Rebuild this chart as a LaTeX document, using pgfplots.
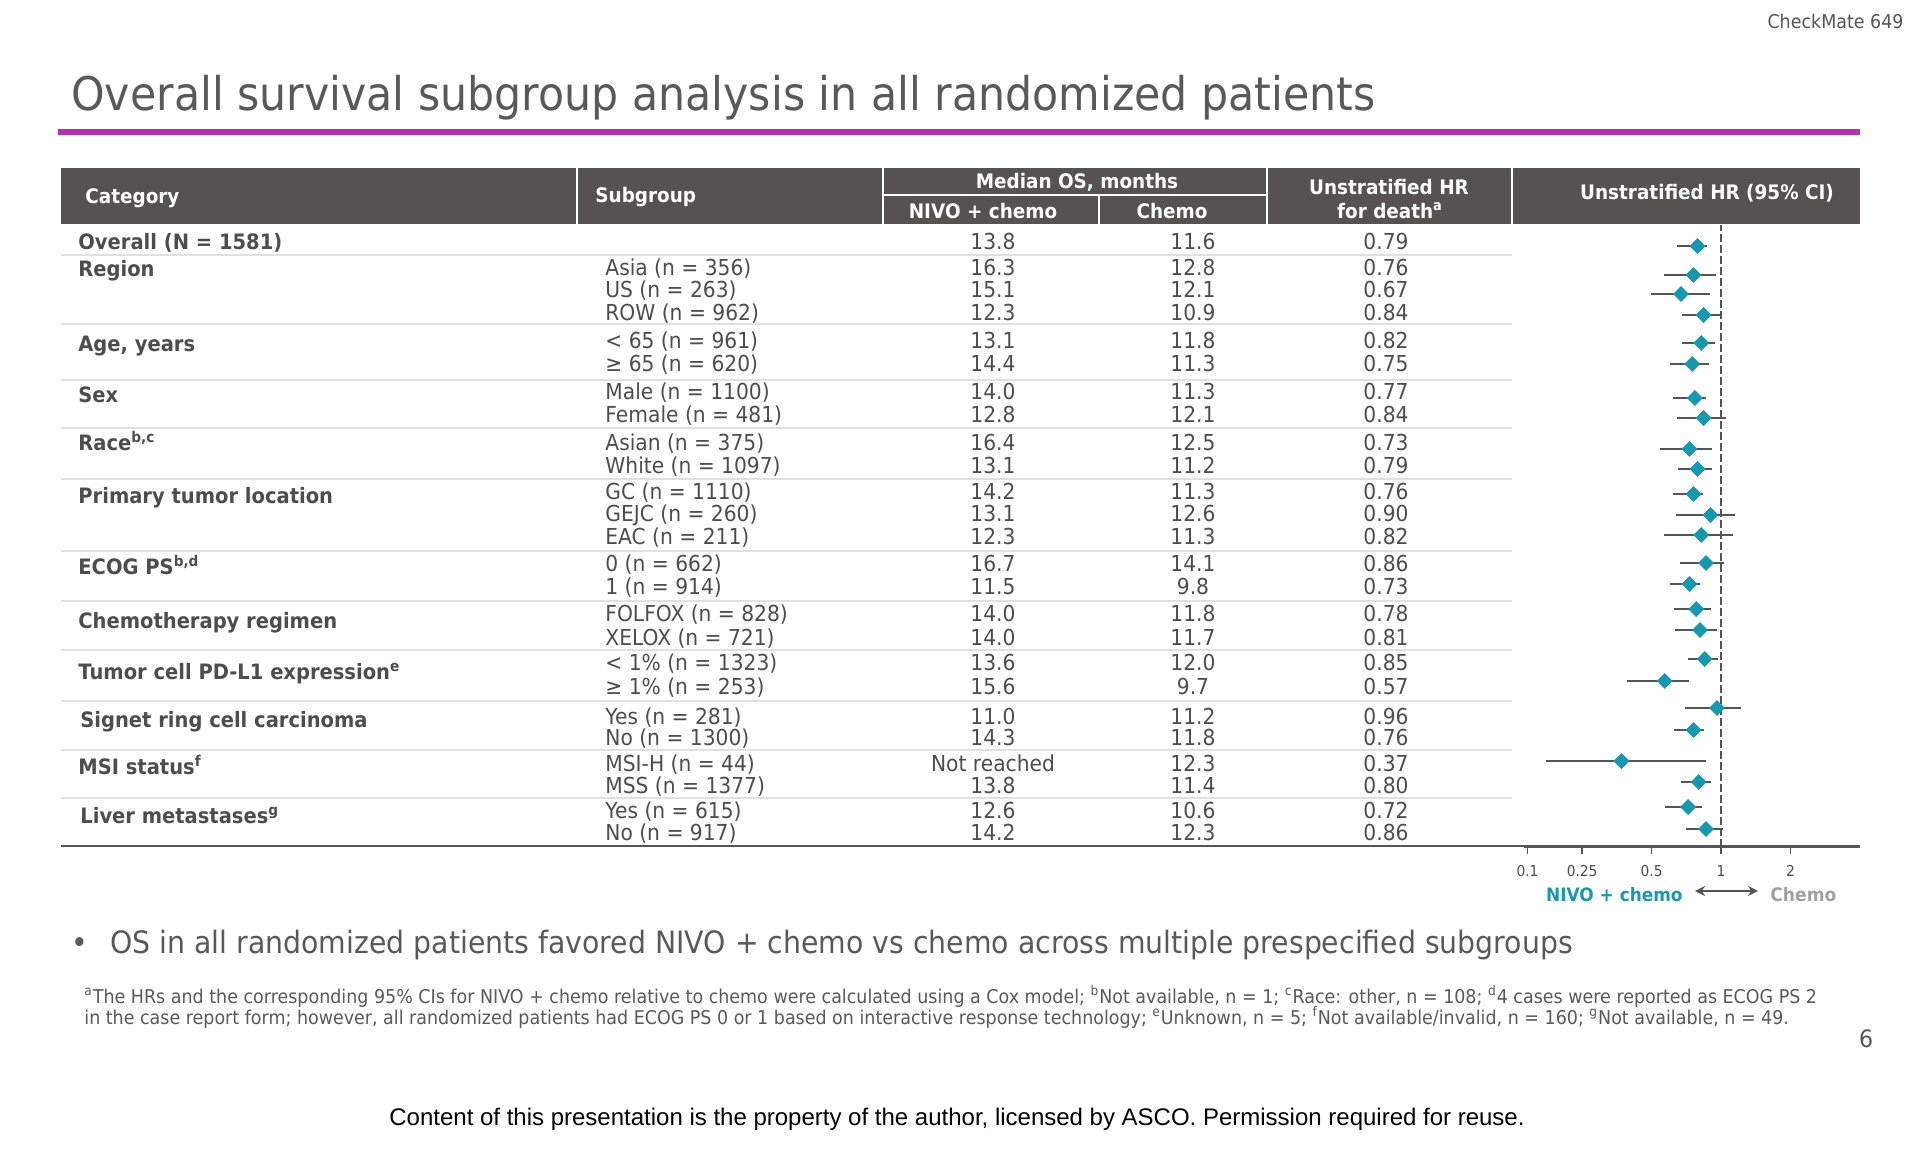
\documentclass[border=0pt]{standalone}
\usepackage{pgfplots}
\pgfplotsset{compat=1.18}
\usepackage{pgfplotstable}
\usepackage{fontspec}
\usetikzlibrary{arrows.meta}
\setmainfont{DejaVu Sans}[FakeStretch=0.92]
\newfontfamily\arialf{Liberation Sans}
\definecolor{hdr}{RGB}{87,82,82}
\definecolor{txt}{RGB}{77,77,77}
\definecolor{ttl}{RGB}{89,89,89}
\definecolor{nivoteal}{RGB}{24,152,175}
\definecolor{purp}{RGB}{178,50,170}
\definecolor{sepc}{RGB}{226,223,223}
\definecolor{axgray}{RGB}{85,85,85}
\definecolor{chemogray}{RGB}{160,160,160}

\pgfplotstableread{
y   hr   lo    hi
601 0.79 0.645 0.872
572 0.76 0.566 0.951
553 0.67 0.497 0.899
532 0.84 0.678 0.990
504 0.82 0.678 0.945
483 0.75 0.601 0.887
449 0.77 0.619 0.864
429 0.84 0.645 1.055
398 0.73 0.544 0.914
378 0.79 0.651 0.917
353 0.76 0.619 0.838
332 0.90 0.638 1.154
312 0.82 0.566 1.131
284 0.86 0.664 1.034
263 0.73 0.601 0.811
238 0.78 0.626 0.908
217 0.81 0.632 0.961
188 0.85 0.719 0.974
166 0.57 0.392 0.727
139 0.96 0.698 1.225
117 0.76 0.626 0.844
86  0.37 0.174 0.861
65  0.80 0.671 0.908
40  0.72 0.572 0.830
18  0.86 0.705 1.020
}\forest

\newcommand\body{\fontsize{11}{13}\selectfont}
\newcommand\catf{\fontsize{10.6}{12}\selectfont\bfseries}
\newcommand\hdrf{\fontsize{10}{12}\selectfont\bfseries}
\newcommand\row[5]{%
  \node[anchor=base west,font=\body,text=txt,inner sep=0pt] at (605,#1+8) {#2};
  \node[anchor=base,font=\body,text=txt,inner sep=0pt] at (993,#1+8) {#3};
  \node[anchor=base,font=\body,text=txt,inner sep=0pt] at (1193,#1+8) {#4};
  \node[anchor=base,font=\body,text=txt,inner sep=0pt] at (1386,#1+8) {#5};
}
\newcommand\cat[3]{\node[anchor=base west,font=\catf,text=txt,inner sep=0pt] at (#1,#2+8) {#3};}

\begin{document}
\begin{tikzpicture}
\begin{scope}[x=0.5pt,y=-0.5pt]
  \fill[white] (0,0) rectangle (1920,1152);
  % top right
  \node[anchor=base east,font=\fontsize{9.5}{11}\selectfont,text=axgray,inner sep=0pt] at (1904,28) {CheckMate 649};
  % title
  \node[anchor=base west,font=\fontsize{23.2}{26}\selectfont,text=ttl,inner sep=0pt] at (71,110) {Overall survival subgroup analysis in all randomized patients};
  \fill[purp] (58,129) rectangle (1860,135);
  % header
  \fill[hdr] (61,168) rectangle (1860,224);
  \draw[white,line width=1pt] (577,168) -- (577,224) (883,168) -- (883,224) (1267,168) -- (1267,224) (1512,168) -- (1512,224);
  \draw[white,line width=1pt] (883,195) -- (1267,195) (1099,195) -- (1099,224);
  \node[anchor=base west,font=\hdrf,text=white,inner sep=0pt] at (85,203) {Category};
  \node[anchor=base west,font=\hdrf,text=white,inner sep=0pt] at (595,202) {Subgroup};
  \node[anchor=base,font=\hdrf,text=white,inner sep=0pt] at (1077,188) {Median OS, months};
  \node[anchor=base,font=\hdrf,text=white,inner sep=0pt] at (983,218) {NIVO + chemo};
  \node[anchor=base,font=\hdrf,text=white,inner sep=0pt] at (1172,218) {Chemo};
  \node[anchor=base,font=\hdrf,text=white,inner sep=0pt] at (1389,194) {Unstratified HR};
  \node[anchor=base,font=\hdrf,text=white,inner sep=0pt] at (1390,218) {for death\textsuperscript{a}};
  \node[anchor=base,font=\hdrf,text=white,inner sep=0pt] at (1707,199) {Unstratified HR (95\% CI)};
  % separators
  \foreach \yy in {255,324,380,428,479,551,601,650,701,750,798}
    \draw[sepc,line width=1.2pt] (61,\yy) -- (1512,\yy);
  \draw[axgray,line width=1pt] (61,846) -- (1860,846);
  % categories
  \cat{78}{241}{Overall (N = 1581)}
  \cat{78}{268}{Region}
  \cat{78}{343}{Age, years}
  \cat{78}{394}{Sex}
  \cat{78}{442}{Race\textsuperscript{b,c}}
  \cat{78}{495}{Primary tumor location}
  \cat{78}{566}{ECOG PS\textsuperscript{b,d}}
  \cat{78}{620}{Chemotherapy regimen}
  \cat{78}{671}{Tumor cell PD-L1 expression\textsuperscript{e}}
  \cat{80}{719}{Signet ring cell carcinoma}
  \cat{78}{766}{MSI status\textsuperscript{f}}
  \cat{80}{815}{Liver metastases\textsuperscript{g}}
  % rows
  \row{241}{}{13.8}{11.6}{0.79}
  \row{267}{Asia (n = 356)}{16.3}{12.8}{0.76}
  \row{289}{US (n = 263)}{15.1}{12.1}{0.67}
  \row{312}{ROW (n = 962)}{12.3}{10.9}{0.84}
  \row{340}{< 65 (n = 961)}{13.1}{11.8}{0.82}
  \row{363}{≥ 65 (n = 620)}{14.4}{11.3}{0.75}
  \row{391}{Male (n = 1100)}{14.0}{11.3}{0.77}
  \row{414}{Female (n = 481)}{12.8}{12.1}{0.84}
  \row{442}{Asian (n = 375)}{16.4}{12.5}{0.73}
  \row{465}{White (n = 1097)}{13.1}{11.2}{0.79}
  \row{491}{GC (n = 1110)}{14.2}{11.3}{0.76}
  \row{513}{GEJC (n = 260)}{13.1}{12.6}{0.90}
  \row{536}{EAC (n = 211)}{12.3}{11.3}{0.82}
  \row{563}{0 (n = 662)}{16.7}{14.1}{0.86}
  \row{586}{1 (n = 914)}{11.5}{9.8}{0.73}
  \row{613}{FOLFOX (n = 828)}{14.0}{11.8}{0.78}
  \row{637}{XELOX (n = 721)}{14.0}{11.7}{0.81}
  \row{662}{< 1\% (n = 1323)}{13.6}{12.0}{0.85}
  \row{686}{≥ 1\% (n = 253)}{15.6}{9.7}{0.57}
  \row{716}{Yes (n = 281)}{11.0}{11.2}{0.96}
  \row{737}{No (n = 1300)}{14.3}{11.8}{0.76}
  \row{763}{MSI-H (n = 44)}{Not reached}{12.3}{0.37}
  \row{785}{MSS (n = 1377)}{13.8}{11.4}{0.80}
  \row{810}{Yes (n = 615)}{12.6}{10.6}{0.72}
  \row{832}{No (n = 917)}{14.2}{12.3}{0.86}
  % favour labels
  \node[anchor=base east,font=\fontsize{9.2}{11}\selectfont\bfseries,text=nivoteal,inner sep=0pt] at (1683,901) {NIVO + chemo};
  \draw[axgray,line width=1pt,{Stealth[length=5pt,width=5pt]}-{Stealth[length=5pt,width=5pt]}] (1695,891) -- (1758,891);
  \node[anchor=base west,font=\fontsize{9.3}{11}\selectfont\bfseries,text=chemogray,inner sep=0pt] at (1770,901) {Chemo};
  % bullet
  \node[anchor=base west,font=\fontsize{15.4}{17}\selectfont,text=ttl,inner sep=0pt] at (71,953) {•};
  \node[anchor=base west,font=\fontsize{15.4}{17}\selectfont,text=ttl,inner sep=0pt] at (110,953) {OS in all randomized patients favored NIVO + chemo vs chemo across multiple prespecified subgroups};
  % footnotes
  \node[anchor=base west,font=\fontsize{9.5}{11}\selectfont,text=ttl,inner sep=0pt] at (84,1003) {\textsuperscript{a}The HRs and the corresponding 95\% CIs for NIVO + chemo relative to chemo were calculated using a Cox model; \textsuperscript{b}Not available, n = 1; \textsuperscript{c}Race: other, n = 108; \textsuperscript{d}4 cases were reported as ECOG PS 2};
  \node[anchor=base west,font=\fontsize{9.5}{11}\selectfont,text=ttl,inner sep=0pt] at (84,1024) {in the case report form; however, all randomized patients had ECOG PS 0 or 1 based on interactive response technology; \textsuperscript{e}Unknown, n = 5; \textsuperscript{f}Not available/invalid, n = 160; \textsuperscript{g}Not available, n = 49.};
  \node[anchor=base,font=\fontsize{12}{14}\selectfont,text=axgray,inner sep=0pt] at (1866,1047) {6};
  \node[anchor=base,font=\arialf\fontsize{12}{14}\selectfont,text=black,inner sep=0pt] at (957,1125) {Content of this presentation is the property of the author, licensed by ASCO. Permission required for reuse.};
\end{scope}
\begin{axis}[
  at={(762pt,-423.5pt)}, anchor=south west,
  scale only axis, width=168pt, height=311pt,
  xmode=log, xmin=0.14, xmax=4, ymin=0, ymax=622,
  axis x line*=bottom, axis y line=none,
  axis line style={draw=axgray, line width=1pt},
  xtick={0.145,0.25,0.5,1,2}, xticklabels={0.1,0.25,0.5,1,2},
  minor xtick={}, ytick=\empty,
  tick align=outside, major tick length=3.5pt,
  tick style={draw=axgray, line width=0.8pt},
  xticklabel style={font=\fontsize{7.5}{9}\selectfont, text=txt, yshift=-2pt},
  clip=false,
]
\addplot[axgray, line width=1pt, dash pattern=on 4pt off 1.5pt] coordinates {(1,0) (1,622)};
\addplot[only marks, mark=square*, mark size=2.6pt,
  mark options={rotate=45, fill=nivoteal, draw=nivoteal},
  error bars/.cd, x dir=both, x explicit, error mark=none,
  error bar style={axgray, line width=0.85pt}]
  table[x=hr, y=y, x error plus expr=\thisrow{hi}-\thisrow{hr}, x error minus expr=\thisrow{hr}-\thisrow{lo}] {\forest};
\end{axis}
\end{tikzpicture}
\end{document}
